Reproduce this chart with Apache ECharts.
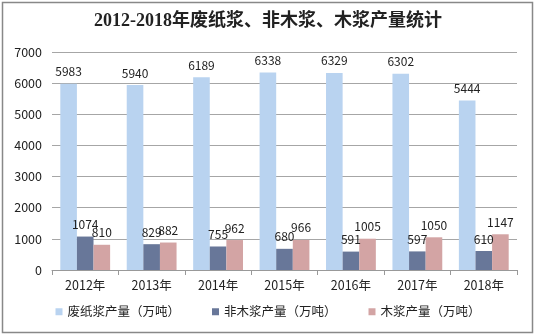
<!DOCTYPE html>
<html><head><meta charset="utf-8">
<script src="https://cdn.jsdelivr.net/npm/echarts@6/dist/echarts.min.js"></script>
<style>html,body{margin:0;padding:0;background:#fff}#c{width:536px;height:336px}</style>
</head><body><div id="c"></div>
<script>
const categories = ['2012年','2013年','2014年','2015年','2016年','2017年','2018年'];
const wastePulp = [5983,5940,6189,6338,6329,6302,5444];
const nonWoodPulp = [1074,829,755,680,591,597,610];
const woodPulp = [810,882,962,966,1005,1050,1147];
const seriesNames = ['废纸浆产量（万吨）','非木浆产量（万吨）','木浆产量（万吨）'];
const yTicks = [0,1000,2000,3000,4000,5000,6000,7000];

const chart = echarts.init(document.getElementById('c'));
const font = '"Noto Sans CJK SC", "Liberation Sans", sans-serif';
const lbl = {show:true, position:'top', distance:6, color:'#222', fontSize:12, fontFamily:font};
chart.setOption({
  animation:false,
  backgroundColor:'#fff',
  title:{text:'2012-2018年废纸浆、非木浆、木浆产量统计', left:'center', top:7,
    textStyle:{fontFamily:'"Liberation Serif", "Noto Sans CJK SC", serif', fontWeight:'bold', fontSize:18, color:'#222'}},
  graphic:[{type:'rect', shape:{x:2.5,y:2.5,width:530,height:330}, style:{fill:null, stroke:'#888', lineWidth:1.5}, silent:true}],
  legend:{bottom:13, left:'center', itemWidth:7, itemHeight:7, itemGap:32, icon:'rect',
    textStyle:{fontFamily:font, fontSize:12.5, color:'#222'}, data:seriesNames},
  grid:{left:52, right:19, top:52, bottom:66, containLabel:false},
  xAxis:{type:'category', data:categories,
    axisLine:{lineStyle:{color:'#999'}}, axisTick:{show:true, lineStyle:{color:'#999'}, length:5},
    axisLabel:{color:'#222', fontSize:12.5, fontFamily:font, margin:9}},
  yAxis:{type:'value', min:yTicks[0], max:yTicks[yTicks.length-1], interval:1000,
    axisLine:{show:false}, axisTick:{show:false},
    splitLine:{lineStyle:{color:'#a6a6a6'}},
    axisLabel:{color:'#222', fontSize:12.5, fontFamily:font, margin:10, formatter:v=>String(v)}},
  series:[
    {name:seriesNames[0], type:'bar', data:wastePulp, barGap:'0%', barCategoryGap:'25%', itemStyle:{color:'#b9d3f0'}, label:lbl},
    {name:seriesNames[1], type:'bar', data:nonWoodPulp, barGap:'0%', barCategoryGap:'25%', itemStyle:{color:'#687799'}, label:lbl},
    {name:seriesNames[2], type:'bar', data:woodPulp, barGap:'0%', barCategoryGap:'25%', itemStyle:{color:'#d3a4a4'}, label:lbl}
  ]
});
</script></body></html>
